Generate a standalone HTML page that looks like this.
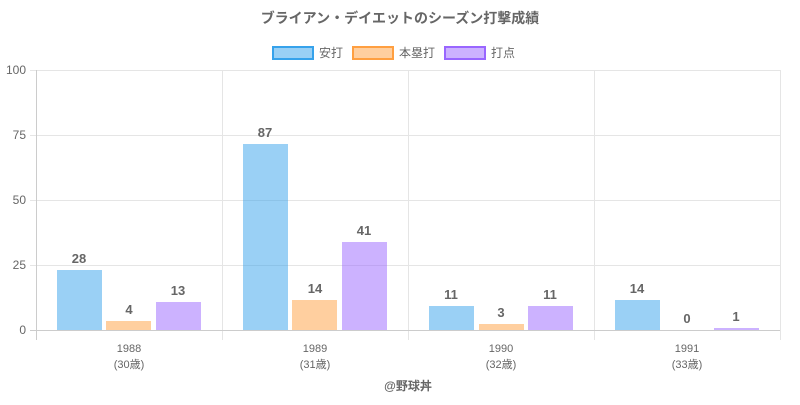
<!DOCTYPE html>
<html><head><meta charset="utf-8"><style>
body{margin:0;background:#fff;}
svg text{font-family:"Liberation Sans","Noto Sans CJK JP",sans-serif;}
</style></head><body>
<svg width="800" height="400" xmlns="http://www.w3.org/2000/svg">
<rect width="800" height="400" fill="#fff"/>
<text x="400" y="23" text-anchor="middle" font-size="14" font-weight="bold" fill="#666">ブライアン・デイエットのシーズン打撃成績</text>
<!-- legend -->
<rect x="273" y="47" width="40" height="12" fill="rgba(54,162,235,0.5)" stroke="#36a2eb" stroke-width="2"/>
<text x="319" y="57" font-size="12" fill="#666">安打</text>
<rect x="353" y="47" width="40" height="12" fill="rgba(255,159,64,0.5)" stroke="#ff9f40" stroke-width="2"/>
<text x="399" y="57" font-size="12" fill="#666">本塁打</text>
<rect x="445" y="47" width="40" height="12" fill="rgba(153,102,255,0.5)" stroke="#9966ff" stroke-width="2"/>
<text x="491" y="57" font-size="12" fill="#666">打点</text>
<!-- grid -->
<g stroke="#e5e5e5" stroke-width="1">
<line x1="36" y1="70.5" x2="780" y2="70.5"/>
<line x1="36" y1="135.5" x2="780" y2="135.5"/>
<line x1="36" y1="200.5" x2="780" y2="200.5"/>
<line x1="36" y1="265.5" x2="780" y2="265.5"/>
<line x1="222.5" y1="70" x2="222.5" y2="340"/>
<line x1="408.5" y1="70" x2="408.5" y2="340"/>
<line x1="594.5" y1="70" x2="594.5" y2="340"/>
<line x1="780.5" y1="70" x2="780.5" y2="340"/>
<line x1="30" y1="70.5" x2="36" y2="70.5"/>
<line x1="30" y1="135.5" x2="36" y2="135.5"/>
<line x1="30" y1="200.5" x2="36" y2="200.5"/>
<line x1="30" y1="265.5" x2="36" y2="265.5"/>
</g>
<line x1="36.5" y1="70" x2="36.5" y2="340" stroke="#ccc"/>
<line x1="30" y1="330.5" x2="780" y2="330.5" stroke="#ccc"/>
<g font-size="12" fill="#666" text-anchor="end">
<text x="26" y="74">100</text><text x="26" y="139">75</text><text x="26" y="204">50</text><text x="26" y="269">25</text><text x="26" y="334">0</text>
</g>
<!-- bars -->
<g stroke-width="0">
<rect x="57" y="270" width="45" height="60" fill="rgba(54,162,235,0.5)"/>
<rect x="106" y="321" width="45" height="9" fill="rgba(255,159,64,0.5)"/>
<rect x="156" y="302" width="45" height="28" fill="rgba(153,102,255,0.5)"/>
<rect x="243" y="144" width="45" height="186" fill="rgba(54,162,235,0.5)"/>
<rect x="292" y="300" width="45" height="30" fill="rgba(255,159,64,0.5)"/>
<rect x="342" y="242" width="45" height="88" fill="rgba(153,102,255,0.5)"/>
<rect x="429" y="306" width="45" height="24" fill="rgba(54,162,235,0.5)"/>
<rect x="479" y="324" width="45" height="6" fill="rgba(255,159,64,0.5)"/>
<rect x="528" y="306" width="45" height="24" fill="rgba(153,102,255,0.5)"/>
<rect x="615" y="300" width="45" height="30" fill="rgba(54,162,235,0.5)"/>
<rect x="714" y="328" width="45" height="2" fill="rgba(153,102,255,0.5)"/>
</g>
<g font-size="13" font-weight="bold" fill="#666" text-anchor="middle">
<text x="79" y="263">28</text><text x="129" y="314">4</text><text x="178" y="295">13</text>
<text x="265" y="137">87</text><text x="315" y="293">14</text><text x="364" y="235">41</text>
<text x="451" y="299">11</text><text x="501" y="317">3</text><text x="550" y="299">11</text>
<text x="637" y="293">14</text><text x="687" y="323">0</text><text x="736" y="321">1</text>
</g>
<g font-size="11" fill="#666" text-anchor="middle">
<text x="129" y="352">1988</text><text x="129" y="368">(30歳)</text>
<text x="315" y="352">1989</text><text x="315" y="368">(31歳)</text>
<text x="501" y="352">1990</text><text x="501" y="368">(32歳)</text>
<text x="687" y="352">1991</text><text x="687" y="368">(33歳)</text>
</g>
<text x="408" y="390" text-anchor="middle" font-size="12" font-weight="bold" fill="#666">@野球丼</text>
</svg>
</body></html>
